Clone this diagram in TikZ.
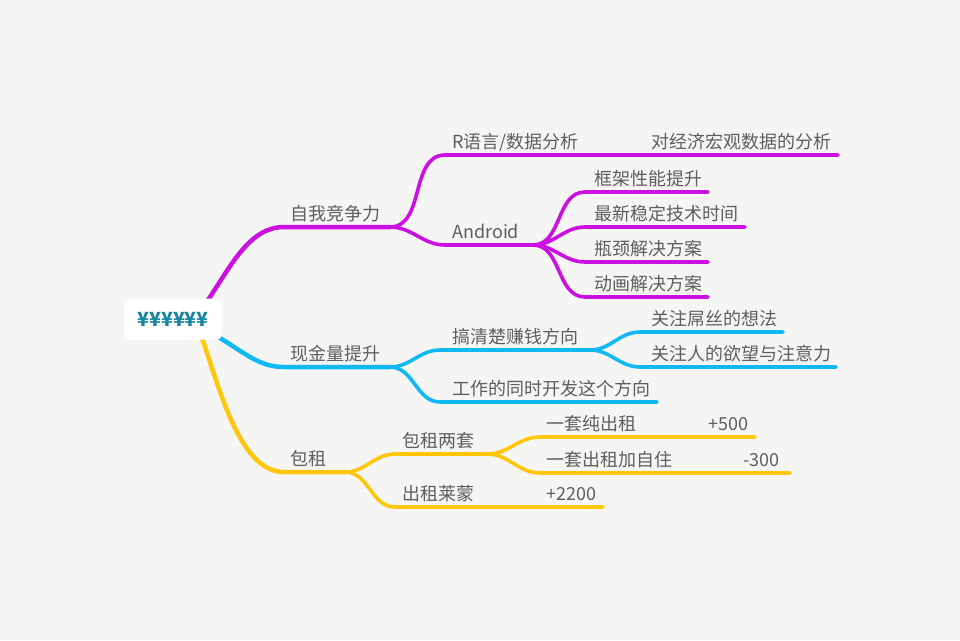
\documentclass[tikz,border=0pt]{standalone}
\usepackage{fontspec}
\setmainfont{Noto Sans CJK SC}
\usetikzlibrary{backgrounds}
\definecolor{bg}{HTML}{F5F6F4}
\definecolor{txt}{HTML}{5E5E5E}
\definecolor{pur}{HTML}{CC10E2}
\definecolor{blu}{HTML}{10B9F4}
\definecolor{yel}{HTML}{FFC60C}
\definecolor{teal}{HTML}{16869F}
\tikzset{
  lbl/.style={anchor=base west, inner sep=0pt, text=txt, font=\fontsize{18}{20}\selectfont},
  rootbox/.style={fill=white, rounded corners=5pt, minimum width=98pt, minimum height=41pt, inner sep=0pt, text=teal, font=\fontsize{19.5}{22}\selectfont\bfseries},
  lvone/.style={line width=4.5pt, line cap=round},
  lvtwo/.style={line width=3.6pt, line cap=round},
  br/.style={out=0, in=180},
}
\begin{document}
\begin{tikzpicture}[x=1pt,y=-1pt]
\useasboundingbox (0,0) rectangle (960,640);
% root
\node[rootbox] (R) at (173,319) {¥¥¥¥¥¥};
\coordinate (Rp) at (208,300);
\coordinate (Rb) at (220,338);
\coordinate (Ry) at (202,338);
% purple
\coordinate (As) at (284,227); \coordinate (Ae) at (390,227);
\node[lbl] (A) at (290,220) {自我竞争力};
\coordinate (A1s) at (445,155); \coordinate (A1e) at (585,155);
\node[lbl] (A1) at (452,148) {R语言/数据分析};
\coordinate (A1ae) at (838,155);
\node[lbl] (A1a) at (651,148) {对经济宏观数据的分析};
\coordinate (A2s) at (445,245); \coordinate (A2e) at (533,245);
\node[lbl] (A2) at (452,238) {Android};
\coordinate (A2as) at (585,192); \coordinate (A2ae) at (708,192);
\node[lbl] (A2a) at (594,185) {框架性能提升};
\coordinate (A2bs) at (585,227); \coordinate (A2be) at (745,227);
\node[lbl] (A2b) at (594,220) {最新稳定技术时间};
\coordinate (A2cs) at (585,262); \coordinate (A2ce) at (708,262);
\node[lbl] (A2c) at (594,255) {瓶颈解决方案};
\coordinate (A2ds) at (585,297); \coordinate (A2de) at (708,297);
\node[lbl] (A2d) at (594,290) {动画解决方案};
% blue
\coordinate (Bs) at (284,367); \coordinate (Be) at (390,367);
\node[lbl] (B) at (290,360) {现金量提升};
\coordinate (B1s) at (440,350); \coordinate (B1e) at (590,350);
\node[lbl] (B1) at (452,343) {搞清楚赚钱方向};
\coordinate (B1as) at (640,332); \coordinate (B1ae) at (783,332);
\node[lbl] (B1a) at (651,325) {关注屌丝的想法};
\coordinate (B1bs) at (640,367); \coordinate (B1be) at (836,367);
\node[lbl] (B1b) at (651,360) {关注人的欲望与注意力};
\coordinate (B2s) at (440,402); \coordinate (B2e) at (657,402);
\node[lbl] (B2) at (452,395) {工作的同时开发这个方向};
% yellow
\coordinate (Cs) at (284,472); \coordinate (Ce) at (345,472);
\node[lbl] (C) at (290,465) {包租};
\coordinate (C1s) at (395,454); \coordinate (C1e) at (487,454);
\node[lbl] (C1) at (402,447) {包租两套};
\coordinate (C1as) at (540,437); \coordinate (C1ae) at (640,437);
\node[lbl] (C1a) at (546,430) {一套纯出租};
\coordinate (C1axe) at (755,437);
\node[lbl] (C1ax) at (708,430) {+500};
\coordinate (C1bs) at (540,473); \coordinate (C1be) at (680,473);
\node[lbl] (C1b) at (546,466) {一套出租加自住};
\coordinate (C1bxe) at (790,473);
\node[lbl] (C1bx) at (743,466) {-300};
\coordinate (C2s) at (395,507); \coordinate (C2e) at (480,507);
\node[lbl] (C2) at (402,500) {出租莱蒙};
\coordinate (C2xe) at (603,507);
\node[lbl] (C2x) at (546,500) {+2200};
\begin{scope}[on background layer]
\fill[bg] (0,0) rectangle (960,640);
% purple
\draw[pur, lvone] (Rp) .. controls (232,264) and (250,227) .. (As) -- (Ae);
\draw[pur, lvtwo] (Ae) to[br] (A1s) -- (A1e) -- (A1ae);
\draw[pur, lvtwo] (Ae) to[br] (A2s) -- (A2e);
\draw[pur, lvtwo] (A2e) to[br] (A2as) -- (A2ae);
\draw[pur, lvtwo] (A2e) to[br] (A2bs) -- (A2be);
\draw[pur, lvtwo] (A2e) to[br] (A2cs) -- (A2ce);
\draw[pur, lvtwo] (A2e) to[br] (A2ds) -- (A2de);
% blue
\draw[blu, lvone] (Rb) .. controls (246,354) and (260,367) .. (Bs) -- (Be);
\draw[blu, lvtwo] (Be) to[br] (B1s) -- (B1e);
\draw[blu, lvtwo] (B1e) to[br] (B1as) -- (B1ae);
\draw[blu, lvtwo] (B1e) to[br] (B1bs) -- (B1be);
\draw[blu, lvtwo] (Be) to[br] (B2s) -- (B2e);
% yellow
\draw[yel, lvone] (Ry) .. controls (220,390) and (240,472) .. (Cs) -- (Ce);
\draw[yel, lvtwo] (Ce) to[br] (C1s) -- (C1e);
\draw[yel, lvtwo] (C1e) to[br] (C1as) -- (C1ae) -- (C1axe);
\draw[yel, lvtwo] (C1e) to[br] (C1bs) -- (C1be) -- (C1bxe);
\draw[yel, lvtwo] (Ce) to[br] (C2s) -- (C2e) -- (C2xe);
\end{scope}
\end{tikzpicture}
\end{document}
